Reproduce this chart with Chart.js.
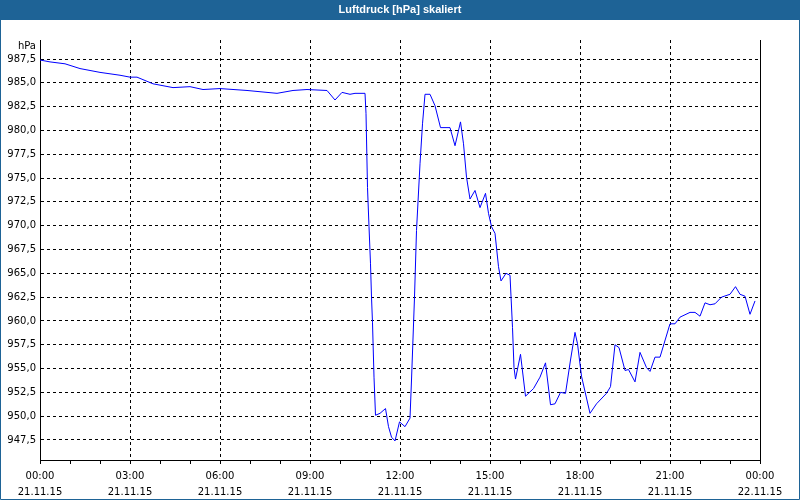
<!DOCTYPE html>
<html>
<head>
<meta charset="utf-8">
<script src="https://cdn.jsdelivr.net/npm/chart.js@4/dist/chart.umd.min.js"></script>
<style>
  html, body { margin: 0; padding: 0; background: #fff; }
  #wrap { width: 800px; height: 500px; position: relative; }
</style>
</head>
<body>
<div id="wrap"><canvas id="luftdruck" width="800" height="500"></canvas></div>
<script>
// Luftdruck 21.11.15, Minuten seit 00:00
var minutes = [0, 20, 50, 80, 120, 160, 180, 194, 226, 266, 300, 326, 360, 414, 474, 506, 534, 574, 590, 604,
  620, 630, 650, 652, 655, 658, 661, 663, 665, 668, 671, 680, 691, 697, 703, 710, 719, 730, 740, 743,
  749, 753, 760, 765, 770, 780, 790, 801, 820, 830, 841, 847, 853, 860, 870, 880, 891, 897, 903, 910,
  917, 922, 932, 940, 945, 948, 951, 961, 971, 987, 1000, 1011, 1021, 1030, 1041, 1051, 1061, 1070, 1075, 1083,
  1100, 1113, 1133, 1141, 1150, 1158, 1170, 1177, 1190, 1200, 1213, 1220, 1230, 1240, 1260, 1270, 1280, 1300, 1310, 1320,
  1330, 1340, 1350, 1363, 1380, 1391, 1400, 1410, 1420, 1430];
var hPa = [987.4, 987.2, 987.0, 986.5, 986.1, 985.8, 985.6, 985.6, 984.9, 984.5, 984.6, 984.3, 984.4, 984.2, 983.9, 984.2, 984.3, 984.2, 983.2, 984.0,
  983.8, 983.9, 983.9, 981.8, 974.0, 969.9, 966.0, 962.5, 959.8, 954.1, 950.1, 950.3, 950.8, 948.9, 947.8, 947.4, 949.4, 948.9, 949.8, 953.8,
  962.5, 969.5, 976.5, 980.7, 983.8, 983.8, 982.6, 980.3, 980.3, 978.4, 980.9, 978.6, 975.1, 972.8, 973.7, 971.9, 973.4, 971.3, 969.9, 969.2,
  965.7, 964.2, 965.0, 964.8, 959.3, 955.1, 953.9, 956.5, 952.1, 952.9, 954.1, 955.6, 951.2, 951.3, 952.5, 952.4, 955.9, 958.8, 957.6, 954.2,
  950.3, 951.3, 952.4, 953.1, 957.5, 957.2, 954.8, 954.9, 953.6, 956.7, 955.1, 954.7, 956.2, 956.2, 959.7, 959.7, 960.4, 960.9, 960.9, 960.5,
  961.9, 961.7, 961.8, 962.5, 962.8, 963.6, 962.8, 962.6, 960.7, 962.1];

var yTicks = [947.5, 950.0, 952.5, 955.0, 957.5, 960.0, 962.5, 965.0, 967.5, 970.0, 972.5, 975.0, 977.5, 980.0, 982.5, 985.0, 987.5];
var xTickTimes = ['00:00', '03:00', '06:00', '09:00', '12:00', '15:00', '18:00', '21:00', '00:00'];
var xTickDates = ['21.11.15', '21.11.15', '21.11.15', '21.11.15', '21.11.15', '21.11.15', '21.11.15', '21.11.15', '22.11.15'];

var points = minutes.map(function (m, i) { return { x: m, y: hPa[i] }; });

var frame = {
  id: 'frame',
  beforeDraw: function (chart) {
    var c = chart.ctx;
    c.save();
    c.fillStyle = '#ffffff';
    c.fillRect(0, 0, 800, 500);
    c.fillStyle = '#1e6396';
    c.fillRect(0, 0, 800, 20);
    c.strokeStyle = '#1e6396';
    c.lineWidth = 1;
    c.beginPath();
    c.moveTo(0.5, 20); c.lineTo(0.5, 499.5); c.lineTo(799.5, 499.5); c.lineTo(799.5, 20);
    c.stroke();
    c.fillStyle = '#ffffff';
    c.font = 'bold 11px "Liberation Sans"';
    c.textAlign = 'center';
    c.textBaseline = 'middle';
    c.fillText('Luftdruck [hPa] skaliert', 400, 10);
    c.restore();
  },
  afterDraw: function (chart) {
    var c = chart.ctx, a = chart.chartArea;
    c.save();
    c.strokeStyle = '#000';
    c.lineWidth = 1;
    c.beginPath();
    c.moveTo(Math.round(a.right) + 0.5, a.top);
    c.lineTo(Math.round(a.right) + 0.5, a.bottom);
    c.stroke();
    c.fillStyle = '#000';
    c.font = '10px "DejaVu Sans"';
    c.textAlign = 'right';
    c.textBaseline = 'middle';
    c.fillText('hPa', a.left - 4, a.top + 6);
    c.restore();
  }
};

new Chart(document.getElementById('luftdruck'), {
  type: 'line',
  data: {
    datasets: [{
      data: points,
      borderColor: '#0000ff',
      borderWidth: 1,
      pointRadius: 0,
      tension: 0,
      fill: false
    }]
  },
  options: {
    responsive: false,
    animation: false,
    layout: { padding: { top: 40, right: 40, left: 0, bottom: 0 } },
    plugins: { legend: { display: false }, tooltip: { enabled: false }, title: { display: false } },
    scales: {
      x: {
        type: 'linear',
        min: 0,
        max: 1440,
        afterFit: function (s) { s.height = 40; },
        afterBuildTicks: function (s) {
          var t = [];
          for (var m = 0; m <= 1440; m += 60) t.push({ value: m });
          s.ticks = t;
        },
        ticks: {
          autoSkip: false,
          maxRotation: 0,
          padding: 4,
          color: '#000',
          font: { family: 'DejaVu Sans', size: 10, lineHeight: 1.6 },
          callback: function (v) {
            if (v % 180 !== 0) return '';
            var i = v / 180;
            return [xTickTimes[i], xTickDates[i]];
          }
        },
        grid: {
          color: function (ctx) {
            var v = ctx.tick ? ctx.tick.value : -1;
            return (v > 0 && v < 1440 && v % 180 === 0) ? '#000' : 'rgba(0,0,0,0)';
          },
          tickColor: '#000',
          tickLength: 4,
          tickBorderDash: [],
          lineWidth: 1
        },
        border: { display: true, color: '#000', dash: [3, 3] }
      },
      y: {
        min: 945.4,
        max: 989.5,
        afterFit: function (s) { s.width = 40; },
        afterBuildTicks: function (s) {
          s.ticks = yTicks.map(function (v) { return { value: v }; });
        },
        ticks: {
          padding: 4,
          color: '#000',
          font: { family: 'DejaVu Sans', size: 10 },
          callback: function (v) { return v.toFixed(1).replace('.', ','); }
        },
        grid: { color: '#000', drawTicks: false, lineWidth: 1 },
        border: { display: true, color: '#000', dash: [3, 3] }
      }
    }
  },
  plugins: [frame]
});
</script>
</body>
</html>
